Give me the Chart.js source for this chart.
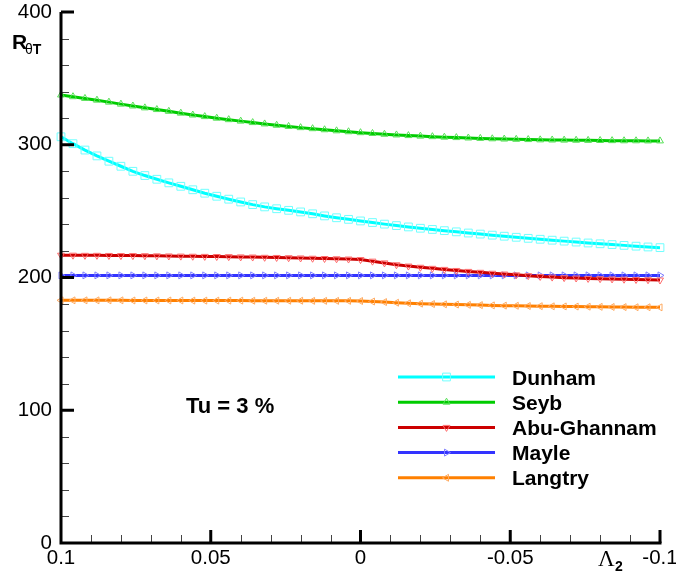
<!DOCTYPE html>
<html>
<head>
<meta charset="utf-8">
<script src="https://cdn.jsdelivr.net/npm/chart.js@4.4.1/dist/chart.umd.min.js"></script>
<style>
  html, body { margin: 0; padding: 0; background: #fff; }
  #wrap { width: 676px; height: 579px; position: relative; }
</style>
</head>
<body>
<div id="wrap"><canvas id="chart"></canvas></div>
<script>
// pressure gradient parameter, from 0.1 down to -0.1
const lambda2 = [
    0.100, 0.096, 0.092, 0.088, 0.084, 0.080, 0.076, 0.072, 0.068, 0.064,
    0.060, 0.056, 0.052, 0.048, 0.044, 0.040, 0.036, 0.032, 0.028, 0.024,
    0.020, 0.016, 0.012, 0.008, 0.004, 0.000, -0.004, -0.008, -0.012, -0.016,
    -0.020, -0.024, -0.028, -0.032, -0.036, -0.040, -0.044, -0.048, -0.052, -0.056,
    -0.060, -0.064, -0.068, -0.072, -0.076, -0.080, -0.084, -0.088, -0.092, -0.096,
    -0.100
];

const dunham = [
    306.0, 300.8, 296.0, 291.6, 287.6, 283.8, 280.0, 276.8, 274.0, 271.3,
    268.7, 266.1, 263.5, 261.2, 259.0, 256.9, 254.9, 253.2, 251.8, 250.6,
    249.4, 248.0, 246.4, 245.0, 243.8, 242.6, 241.4, 240.2, 239.1, 238.1,
    237.1, 236.2, 235.3, 234.4, 233.5, 232.7, 231.9, 231.1, 230.3, 229.5,
    228.8, 228.1, 227.4, 226.7, 226.0, 225.4, 224.8, 224.2, 223.6, 223.0,
    222.5
];

const seyb = [
    337.5, 336.2, 334.9, 333.6, 332.1, 330.6, 329.2, 327.8, 326.5, 325.2,
    323.8, 322.4, 321.2, 320.0, 318.9, 317.8, 316.7, 315.7, 314.7, 313.8,
    312.9, 312.1, 311.3, 310.5, 309.8, 309.1, 308.5, 307.9, 307.4, 306.9,
    306.5, 306.1, 305.7, 305.4, 305.1, 304.8, 304.5, 304.3, 304.1, 303.9,
    303.7, 303.6, 303.5, 303.4, 303.3, 303.2, 303.1, 303.0, 303.0, 302.9,
    302.9
];

const abuGhannam = [
    216.8, 216.8, 216.7, 216.7, 216.6, 216.5, 216.5, 216.4, 216.3, 216.2,
    216.1, 216.0, 215.9, 215.8, 215.7, 215.5, 215.4, 215.2, 215.1, 214.9,
    214.7, 214.5, 214.3, 214.1, 213.9, 213.5, 212.3, 211.0, 209.6, 208.6,
    207.7, 206.9, 206.1, 205.3, 204.6, 203.9, 203.2, 202.6, 202.0, 201.4,
    200.8, 200.3, 199.9, 199.6, 199.3, 199.1, 198.9, 198.7, 198.5, 198.3,
    198.1
];

const mayle = [
    201.6, 201.6, 201.6, 201.6, 201.6, 201.6, 201.6, 201.6, 201.6, 201.6,
    201.6, 201.6, 201.6, 201.6, 201.6, 201.6, 201.6, 201.6, 201.6, 201.6,
    201.6, 201.6, 201.6, 201.6, 201.6, 201.6, 201.6, 201.6, 201.6, 201.6,
    201.6, 201.6, 201.6, 201.6, 201.6, 201.6, 201.6, 201.6, 201.6, 201.6,
    201.6, 201.6, 201.6, 201.6, 201.6, 201.6, 201.6, 201.6, 201.6, 201.6,
    201.6
];

const langtry = [
    182.8, 182.8, 182.8, 182.8, 182.8, 182.8, 182.7, 182.7, 182.7, 182.7,
    182.7, 182.6, 182.6, 182.6, 182.6, 182.6, 182.5, 182.5, 182.5, 182.5,
    182.5, 182.4, 182.4, 182.4, 182.4, 182.3, 181.9, 181.5, 181.0, 180.6,
    180.3, 180.0, 179.8, 179.6, 179.4, 179.2, 179.0, 178.8, 178.7, 178.5,
    178.4, 178.3, 178.2, 178.1, 178.0, 177.9, 177.8, 177.7, 177.6, 177.6,
    177.5
];

const seriesNames = ['Dunham', 'Seyb', 'Abu-Ghannam', 'Mayle', 'Langtry'];
const seriesValues = [dunham, seyb, abuGhannam, mayle, langtry];
const lineColors = ['#00ffff', '#00cc00', '#cc0000', '#3333ff', '#ff8000'];
const markerColors = ['#70ffff', '#55e055', '#ff6a6a', '#7f7fff', '#ffaa60'];
const markerStyles = ['rect', 'triangle', 'triangle', 'triangle', 'triangle'];
const markerRotations = [0, 0, 180, 90, -90];
const markerRadius = [5.5, 4, 4, 4, 4];

const SANS = '"Liberation Sans", Arial, Helvetica, sans-serif';

const datasets = seriesNames.map((name, i) => ({
    label: name,
    data: lambda2.map((x, k) => ({ x: x, y: seriesValues[i][k] })),
    borderColor: lineColors[i],
    borderWidth: 3,
    pointStyle: markerStyles[i],
    rotation: markerRotations[i],
    pointRadius: markerRadius[i],
    pointBorderWidth: 1,
    pointBorderColor: markerColors[i],
    pointBackgroundColor: 'rgba(0,0,0,0)',
    tension: 0,
    clip: false
}));

// black axis lines with inward major/minor ticks
const axesPlugin = {
    id: 'axes',
    afterDatasetsDraw(chart) {
        const { ctx, chartArea: a, scales: { x, y } } = chart;
        ctx.save();
        ctx.lineCap = 'butt';

        // minor ticks
        ctx.strokeStyle = '#444';
        ctx.lineWidth = 1;
        ctx.beginPath();
        for (let v = 20; v < 400; v += 20) {
            if (v % 100 === 0) continue;
            const py = Math.round(y.getPixelForValue(v)) + 0.5;
            ctx.moveTo(a.left, py);
            ctx.lineTo(a.left + 8, py);
        }
        for (let k = -9; k <= 9; k++) {
            if (k % 5 === 0) continue;
            const px = Math.round(x.getPixelForValue(k / 100)) + 0.5;
            ctx.moveTo(px, a.bottom);
            ctx.lineTo(px, a.bottom - 8);
        }
        ctx.stroke();

        // major ticks
        ctx.strokeStyle = '#000';
        ctx.lineWidth = 3;
        ctx.beginPath();
        for (let v = 100; v <= 400; v += 100) {
            const py = y.getPixelForValue(v);
            ctx.moveTo(a.left, py);
            ctx.lineTo(a.left + 13, py);
        }
        [0.05, 0, -0.05, -0.1].forEach(v => {
            const px = x.getPixelForValue(v);
            ctx.moveTo(px, a.bottom);
            ctx.lineTo(px, a.bottom - 13);
        });
        ctx.stroke();

        // axis lines
        ctx.beginPath();
        ctx.moveTo(a.left, a.top);
        ctx.lineTo(a.left, a.bottom + 1.5);
        ctx.moveTo(a.left - 1.5, a.bottom);
        ctx.lineTo(a.right + 1.5, a.bottom);
        ctx.stroke();
        ctx.restore();
    }
};

// legend box, axis titles and the Tu note
const labelsPlugin = {
    id: 'labels',
    afterDraw(chart) {
        const ctx = chart.ctx;
        ctx.save();
        ctx.fillStyle = '#000';
        ctx.textBaseline = 'alphabetic';
        ctx.textAlign = 'left';

        // y axis title R_θT
        ctx.font = 'bold 21px ' + SANS;
        ctx.fillText('R', 12, 49);
        ctx.font = '14px ' + SANS;
        ctx.fillText('θ', 25, 54);
        const thW = ctx.measureText('θ').width;
        ctx.font = 'bold 14px ' + SANS;
        ctx.fillText('T', 25 + thW, 54);

        // x axis title Λ_2
        ctx.font = '23px "Liberation Serif", "DejaVu Serif", serif';
        ctx.fillText('Λ', 598, 566);
        ctx.font = 'bold 14px ' + SANS;
        ctx.fillText('2', 615, 571);

        // turbulence intensity note
        ctx.font = 'bold 22px ' + SANS;
        ctx.fillText('Tu = 3 %', 186, 413);

        // legend
        const rowY = [377, 402.2, 427.4, 452.6, 477.8];
        chart.data.datasets.forEach((ds, i) => {
            const ly = rowY[i];
            ctx.strokeStyle = ds.borderColor;
            ctx.lineWidth = 3;
            ctx.beginPath();
            ctx.moveTo(398, ly);
            ctx.lineTo(495, ly);
            ctx.stroke();
            ctx.lineWidth = 1;
            ctx.strokeStyle = ds.pointBorderColor;
            ctx.fillStyle = 'rgba(0,0,0,0)';
            Chart.helpers.drawPoint(ctx, {
                pointStyle: ds.pointStyle,
                rotation: ds.rotation,
                radius: ds.pointRadius,
                borderWidth: 1
            }, 446.5, ly);
            ctx.fillStyle = '#000';
            ctx.font = 'bold 21px ' + SANS;
            ctx.fillText(ds.label, 512, ly + 7.5);
        });
        ctx.restore();
    }
};

new Chart(document.getElementById('chart').getContext('2d'), {
    type: 'line',
    data: { datasets: datasets },
    options: {
        responsive: true,
        maintainAspectRatio: false,
        animation: false,
        events: [],
        layout: { padding: { left: 0, right: 16, top: 12, bottom: 0 } },
        plugins: {
            legend: { display: false },
            tooltip: { enabled: false }
        },
        scales: {
            x: {
                type: 'linear',
                reverse: true,
                min: -0.1,
                max: 0.1,
                grid: { display: false, drawTicks: false },
                border: { display: false },
                ticks: {
                    stepSize: 0.05,
                    autoSkip: false,
                    maxRotation: 0,
                    padding: 3,
                    color: '#000',
                    font: { family: SANS, size: 20.5 },
                    callback: v => Number(v.toFixed(3)).toString()
                },
                afterFit(s) {
                    s.height = 36;
                    s.paddingLeft = 0;
                    s.paddingRight = 0;
                }
            },
            y: {
                min: 0,
                max: 400,
                grid: { display: false, drawTicks: false },
                border: { display: false },
                ticks: {
                    stepSize: 100,
                    padding: 9,
                    color: '#000',
                    font: { family: SANS, size: 20.5 }
                },
                afterFit(s) {
                    s.width = 61;
                    s.paddingTop = 0;
                    s.paddingBottom = 0;
                }
            }
        }
    },
    plugins: [axesPlugin, labelsPlugin]
});
</script>
</body>
</html>
